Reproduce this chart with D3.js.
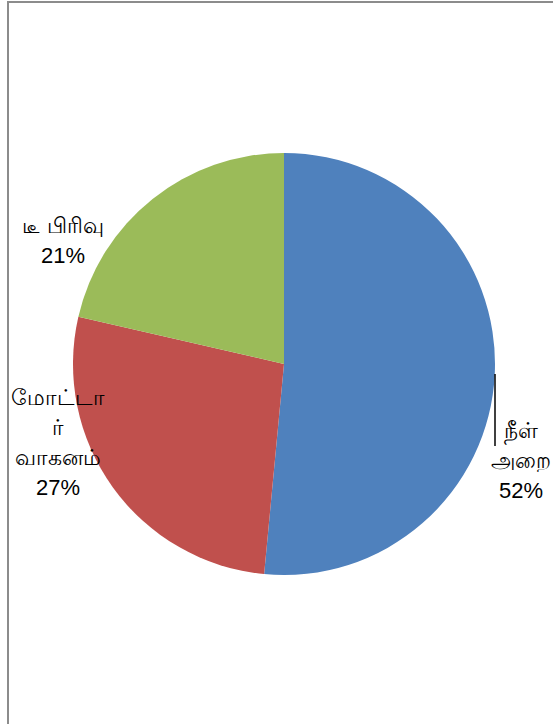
<!DOCTYPE html>
<html>
<head>
<meta charset="utf-8">
<script src="https://cdn.jsdelivr.net/npm/d3@7"></script>
<style>
  body { margin: 0; background: #fff; }
  .lbl { font-family: "Liberation Sans", "Noto Sans", sans-serif; font-size: 22px; fill: #000; }
</style>
</head>
<body>
<div class="chart"></div>
<script>
const FRAME_WIDTH = 553;
const FRAME_HEIGHT = 724;
const CENTER = {x: 284, y: 364};
const RADIUS = 211;

// data
const categories = ["நீள் அறை", "மோட்டார் வாகனம்", "டீ பிரிவு"];
const values = [51.5, 27.1, 21.4];
const colors = ["#4f81bd", "#c0504d", "#9bbb59"];
const labelLines = [["நீள்", "அறை"], ["மோட்டா", "ர்", "வாகனம்"], ["டீ  பிரிவு"]];

const SVG = d3.select(".chart")
    .append("svg")
    .attr("width", FRAME_WIDTH)
    .attr("height", FRAME_HEIGHT);

// frame border (only left and top edge visible)
SVG.append("rect")
    .attr("x", 8)
    .attr("y", 2)
    .attr("width", FRAME_WIDTH + 20)
    .attr("height", FRAME_HEIGHT + 20)
    .attr("fill", "none")
    .attr("stroke", "#8c8c8c")
    .attr("stroke-width", 2);

const total = d3.sum(values);
const data = categories.map((c, i) => ({name: c, value: values[i], color: colors[i], lines: labelLines[i]}));

const PIE = d3.pie().sort(null).value(d => d.value);
const ARC = d3.arc().innerRadius(0).outerRadius(RADIUS);

const G = SVG.append("g")
    .attr("transform", "translate(" + CENTER.x + "," + CENTER.y + ")");

const arcs = PIE(data);

G.selectAll("path")
    .data(arcs)
    .enter()
    .append("path")
    .attr("d", ARC)
    .attr("fill", d => d.data.color);

// label positions (relative to centre)
const LABEL_POS = [
    {x: 237, y: 74},
    {x: -226, y: 41},
    {x: -221, y: -131}
];
const LINE_H = 30;

arcs.forEach((a, i) => {
    const pos = LABEL_POS[i];
    const lines = a.data.lines.concat([Math.round(a.data.value / total * 100) + "%"]);
    const t = G.append("text")
        .attr("class", "lbl")
        .attr("text-anchor", "middle");
    lines.forEach((ln, j) => {
        t.append("tspan")
            .attr("x", pos.x)
            .attr("y", pos.y + j * LINE_H)
            .text(ln);
    });
});

// leader line for the blue slice
G.append("line")
    .attr("x1", 211)
    .attr("y1", 10)
    .attr("x2", 211)
    .attr("y2", 82)
    .attr("stroke", "#000")
    .attr("stroke-width", 1.5);
</script>
</body>
</html>
